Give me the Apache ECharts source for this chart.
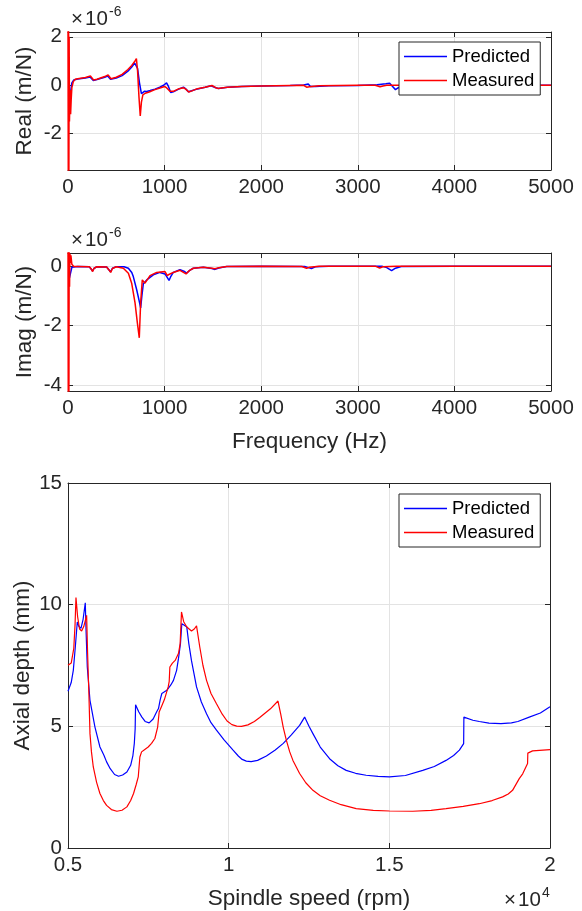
<!DOCTYPE html>
<html lang="en">
<head>
    <meta charset="UTF-8">
    <title>FRF and stability lobes</title>
    <style>
        html, body {
            margin: 0;
            padding: 0;
            background: #fff;
        }

        #main {
            width: 582px;
            height: 911px;
        }
    </style>
</head>
<body>
<div id="main"></div>
<script src="https://cdn.jsdelivr.net/npm/echarts/dist/echarts.min.js"></script>
<script>
    // FRF real part, x = frequency (Hz), y in 1e-6 m/N
    var realPredicted = [
        [15, -0.6], [40, 0.1], [60, 0.22], [100, 0.26], [180, 0.3], [228, 0.34], [245, 0.3], [262, 0.2],
        [300, 0.24], [380, 0.33], [410, 0.38], [440, 0.25], [500, 0.3], [560, 0.4], [620, 0.58],
        [660, 0.75], [690, 0.92], [705, 0.98], [720, 0.7], [740, 0.1], [760, -0.35], [775, -0.38],
        [790, -0.25], [815, -0.26], [850, -0.22], [900, -0.16], [950, -0.08], [990, 0.0], [1020, 0.1],
        [1040, -0.05], [1063, -0.3], [1090, -0.27], [1150, -0.15], [1195, -0.08], [1220, -0.15],
        [1246, -0.27], [1280, -0.23], [1340, -0.15], [1420, -0.08], [1480, -0.02], [1500, 0.0],
        [1530, -0.1], [1560, -0.13], [1650, -0.08], [1800, -0.05], [2000, -0.03], [2300, -0.01],
        [2440, 0.01], [2487, 0.05], [2510, -0.05], [2530, -0.1], [2560, -0.05], [2700, -0.02],
        [3000, -0.01], [3200, 0.02], [3290, 0.06], [3330, 0.08], [3360, -0.05], [3390, -0.18],
        [3420, -0.1], [3500, -0.02], [4000, 0], [5000, 0]
    ];
    var realMeasured = [
        [0, 2.5], [3, -4], [6, 3], [9, -4], [12, 2], [15, -1.5], [22, -0.2], [27, -1.2], [33, -0.6],
        [40, -0.1], [55, 0.15], [75, 0.25], [100, 0.27], [180, 0.32], [232, 0.38], [248, 0.32],
        [265, 0.22], [300, 0.25], [380, 0.36], [415, 0.43], [445, 0.27], [500, 0.33], [560, 0.45],
        [620, 0.65], [660, 0.82], [690, 0.98], [708, 1.1], [720, 0.6], [735, -0.5], [748, -1.27],
        [760, -0.7], [775, -0.4], [800, -0.33], [840, -0.28], [900, -0.18], [960, -0.1], [1000, -0.05],
        [1025, -0.12], [1055, -0.25], [1090, -0.25], [1150, -0.14], [1195, -0.1], [1225, -0.18],
        [1250, -0.28], [1290, -0.22], [1340, -0.14], [1420, -0.08], [1490, -0.01], [1520, -0.08],
        [1550, -0.13], [1650, -0.08], [1800, -0.05], [2000, -0.03], [2300, -0.01], [2440, 0.0],
        [2470, -0.08], [2500, -0.06], [2600, -0.02], [3000, 0], [3180, 0.0], [3230, -0.06],
        [3260, -0.03], [3300, 0], [4000, 0], [5000, 0]
    ];

    // FRF imaginary part, x = frequency (Hz), y in 1e-6 m/N
    var imagPredicted = [
        [15, -0.4], [40, -0.05], [100, -0.02], [220, -0.03], [240, -0.08], [255, -0.17], [270, -0.08],
        [300, -0.03], [400, -0.04], [420, -0.1], [440, -0.2], [460, -0.08], [500, -0.03], [580, -0.03],
        [625, -0.08], [660, -0.22], [676, -0.36], [711, -0.8], [735, -1.15], [752, -1.41], [765, -1.0],
        [780, -0.6], [815, -0.47], [883, -0.3], [952, -0.22], [1004, -0.27], [1030, -0.4], [1046, -0.49],
        [1065, -0.35], [1090, -0.22], [1159, -0.13], [1200, -0.18], [1229, -0.24], [1260, -0.15],
        [1297, -0.08], [1401, -0.05], [1490, -0.09], [1522, -0.12], [1560, -0.07], [1643, -0.02],
        [2000, -0.01], [2450, -0.02], [2490, -0.06], [2520, -0.09], [2560, -0.03], [2700, -0.01],
        [3250, -0.01], [3300, -0.06], [3350, -0.16], [3390, -0.08], [3450, -0.02], [4000, -0.01],
        [5000, -0.01]
    ];
    var imagMeasured = [
        [0, 1], [3, -5], [6, 1], [9, -5], [12, 0.5], [16, -0.7], [20, 0.4], [25, 0.1], [30, 0.35],
        [40, 0.05], [60, -0.02], [100, -0.02], [220, -0.03], [240, -0.1], [255, -0.19], [270, -0.08],
        [300, -0.03], [400, -0.04], [420, -0.12], [442, -0.22], [460, -0.09], [500, -0.03], [573, -0.08],
        [625, -0.25], [659, -0.58], [694, -1.24], [718, -1.91], [738, -2.41], [752, -1.24], [769, -0.47],
        [797, -0.58], [849, -0.33], [918, -0.22], [1004, -0.19], [1028, -0.33], [1050, -0.28],
        [1090, -0.22], [1159, -0.15], [1222, -0.27], [1260, -0.15], [1297, -0.08], [1401, -0.05],
        [1490, -0.08], [1522, -0.1], [1560, -0.06], [1643, -0.02], [2000, -0.01], [2420, -0.02],
        [2470, -0.08], [2500, -0.05], [2600, -0.01], [3180, -0.01], [3226, -0.07], [3260, -0.03],
        [3400, -0.01], [5000, -0.01]
    ];

    // stability lobes, x = spindle speed (rpm), y = axial depth (mm)
    var lobesPredicted = [
        [5000, 6.44], [5100, 6.8], [5165, 7.3], [5230, 8.3], [5289, 9.29], [5340, 9.1], [5404, 9.03],
        [5470, 9.4], [5538, 10.08], [5560, 9.0], [5600, 7.44], [5684, 6.07], [5839, 4.97], [5994, 4.15],
        [6118, 3.81], [6201, 3.54], [6314, 3.26], [6450, 3.02], [6573, 2.95], [6700, 3.0], [6833, 3.12],
        [6950, 3.4], [7020, 3.8], [7064, 4.3], [7090, 4.9], [7103, 5.89], [7200, 5.6], [7300, 5.38],
        [7400, 5.2], [7526, 5.14], [7650, 5.3], [7760, 5.6], [7816, 5.73], [7870, 6.1], [7920, 6.35],
        [8075, 6.48], [8200, 6.7], [8282, 6.89], [8380, 7.3], [8440, 7.8], [8500, 8.4], [8542, 9.22],
        [8620, 9.15], [8697, 9.08], [8760, 8.4], [8843, 7.7], [9000, 6.62], [9150, 6.0], [9311, 5.52],
        [9450, 5.15], [9621, 4.84], [9850, 4.45], [10137, 4.02], [10300, 3.78], [10420, 3.64],
        [10550, 3.57], [10700, 3.55], [10900, 3.6], [11174, 3.78], [11450, 4.03], [11700, 4.3],
        [11950, 4.65], [12208, 5.04], [12364, 5.38], [12500, 5.0], [12622, 4.7], [12850, 4.15],
        [13140, 3.67], [13400, 3.38], [13657, 3.19], [13950, 3.07], [14278, 2.99], [14650, 2.94],
        [15005, 2.92], [15500, 2.98], [16040, 3.19], [16400, 3.35], [16765, 3.6], [17000, 3.8],
        [17180, 4.02], [17313, 4.29], [17320, 5.38], [17600, 5.25], [17800, 5.2], [18100, 5.13],
        [18475, 5.11], [18800, 5.14], [19000, 5.2], [19355, 5.38], [19700, 5.55], [20000, 5.8]
    ];
    var lobesMeasured = [
        [5000, 7.51], [5100, 7.6], [5180, 8.2], [5220, 9.2], [5248, 10.29], [5300, 9.5], [5360, 9.0],
        [5425, 8.92], [5490, 9.1], [5580, 9.56], [5610, 8.0], [5650, 6.35], [5684, 4.7], [5730, 3.95],
        [5787, 3.33], [5890, 2.7], [5994, 2.24], [6100, 1.95], [6201, 1.75], [6350, 1.58], [6522, 1.51],
        [6680, 1.55], [6833, 1.69], [6950, 1.95], [7040, 2.24], [7120, 2.6], [7186, 2.92], [7237, 3.74],
        [7290, 3.95], [7390, 4.05], [7495, 4.15], [7600, 4.3], [7703, 4.5], [7790, 4.97], [7837, 5.59],
        [7920, 5.85], [8000, 6.1], [8118, 6.62], [8150, 6.85], [8170, 7.44], [8250, 7.6], [8335, 7.71],
        [8440, 8.0], [8490, 8.4], [8532, 9.7], [8600, 9.3], [8697, 9.08], [8843, 8.92], [8930, 9.0],
        [9000, 9.13], [9101, 8.26], [9200, 7.5], [9311, 6.89], [9450, 6.35], [9621, 5.93], [9800, 5.5],
        [9950, 5.22], [10100, 5.07], [10250, 5.01], [10400, 5.0], [10600, 5.06], [10800, 5.2],
        [10966, 5.36], [11300, 5.72], [11535, 6.04], [11620, 5.5], [11700, 4.95], [11794, 4.43],
        [11900, 3.95], [12000, 3.6], [12208, 3.06], [12400, 2.68], [12622, 2.37], [12850, 2.15],
        [13140, 1.96], [13500, 1.78], [13968, 1.62], [14500, 1.55], [15005, 1.52], [15729, 1.51],
        [16300, 1.55], [16765, 1.62], [17300, 1.71], [17800, 1.82], [18200, 1.95], [18525, 2.1],
        [18700, 2.22], [18835, 2.37], [19043, 2.85], [19150, 3.05], [19250, 3.33], [19302, 3.47],
        [19310, 3.9], [19458, 3.99], [20000, 4.04]
    ];

    var seriesNames = ['Predicted', 'Measured'];
    var freqTicks = [0, 1000, 2000, 3000, 4000, 5000];
    var speedTicks = [5000, 10000, 15000, 20000];
    var realTicks = [-2, 0, 2];
    var imagTicks = [-4, -2, 0];
    var depthTicks = [0, 5, 10, 15];

    var FONT = '"Liberation Sans", Arial, Helvetica, sans-serif';
    var INK = '#262626';
    var GRIDLINE = '#e3e3e3';

    var grids = [
        {left: 68, top: 32, width: 483, height: 138},
        {left: 68, top: 253, width: 483, height: 138},
        {left: 68, top: 483, width: 482, height: 365}
    ];

    var xAxes = [];
    var yAxes = [];

    var tickStyle = {show: true, inside: true, length: 5, lineStyle: {color: INK}};

    var addAxes = function (g, xr, xt, yr, yt, xName, yName, xFmt, yGap) {
        // bottom / left axes carry labels, top / right only repeat the ticks (MATLAB box)
        xAxes.push({
            gridIndex: g, type: 'value', position: 'bottom', min: xr[0], max: xr[1],
            name: xName, nameLocation: 'middle', nameGap: 39, nameMoveOverlap: false,
            nameTextStyle: {color: INK, fontSize: 22.5, fontFamily: FONT},
            axisLine: {show: true, onZero: false, lineStyle: {color: INK, width: 1}},
            axisTick: Object.assign({customValues: xt}, tickStyle),
            axisLabel: {customValues: xt, color: INK, fontSize: 20.5, fontFamily: FONT, margin: 7, formatter: xFmt},
            splitLine: {show: true, lineStyle: {color: GRIDLINE, width: 1}}
        });
        xAxes.push({
            gridIndex: g, type: 'value', position: 'top', min: xr[0], max: xr[1],
            axisLine: {show: true, onZero: false, lineStyle: {color: INK, width: 1}},
            axisTick: Object.assign({customValues: xt}, tickStyle),
            axisLabel: {show: false},
            splitLine: {show: false}
        });
        yAxes.push({
            gridIndex: g, type: 'value', position: 'left', min: yr[0], max: yr[1],
            name: yName, nameLocation: 'middle', nameGap: yGap, nameMoveOverlap: false,
            nameTextStyle: {color: INK, fontSize: 22.5, fontFamily: FONT},
            axisLine: {show: true, onZero: false, lineStyle: {color: INK, width: 1}},
            axisTick: Object.assign({customValues: yt}, tickStyle),
            axisLabel: {customValues: yt, color: INK, fontSize: 20.5, fontFamily: FONT, margin: 6},
            splitLine: {show: true, lineStyle: {color: GRIDLINE, width: 1}}
        });
        yAxes.push({
            gridIndex: g, type: 'value', position: 'right', min: yr[0], max: yr[1],
            axisLine: {show: true, onZero: false, lineStyle: {color: INK, width: 1}},
            axisTick: Object.assign({customValues: yt}, tickStyle),
            axisLabel: {show: false},
            splitLine: {show: false}
        });
    };

    var plain = function (v) {
        return String(v);
    };

    addAxes(0, [0, 5000], freqTicks, [-3.5, 2.2], realTicks, '', 'Real (m/N)', plain, 32);
    addAxes(1, [0, 5000], freqTicks, [-4.19, 0.43], imagTicks, 'Frequency (Hz)', 'Imag (m/N)', plain, 32);
    addAxes(2, [5000, 20000], speedTicks, [0, 15], depthTicks, 'Spindle speed (rpm)', 'Axial depth (mm)',
        function (v) {
            return String(v / 10000);
        }, 34);

    var makeLine = function (name, color, g, data, width) {
        return {
            name: name,
            type: 'line',
            xAxisIndex: g * 2,
            yAxisIndex: g * 2,
            data: data,
            symbol: 'none',
            showSymbol: false,
            animation: false,
            clip: true,
            lineStyle: {color: color, width: width},
            itemStyle: {color: color}
        };
    };

    var makeLegend = function (top) {
        return {
            data: seriesNames,
            orient: 'vertical',
            left: 399,
            top: top,
            icon: 'rect',
            itemWidth: 43,
            itemHeight: 1.5,
            itemGap: 5,
            padding: [5, 6, 5, 5],
            borderColor: INK,
            borderWidth: 1,
            backgroundColor: '#fff',
            selectedMode: false,
            textStyle: {color: '#000', fontSize: 18.5, fontFamily: FONT}
        };
    };

    // MATLAB style axis exponent: "×10" with a raised power
    var expText = function (x, y, sup) {
        return [
            {type: 'text', left: x, top: y, z: 10,
                style: {text: '\u00d7', fill: INK, font: '20.5px ' + FONT}},
            {type: 'text', left: x + 14, top: y, z: 10,
                style: {text: '10', fill: INK, font: '20.5px ' + FONT}},
            {type: 'text', left: x + 38, top: y - 4, z: 10,
                style: {text: sup, fill: INK, font: '14px ' + FONT}}
        ];
    };

    var option = {
        backgroundColor: '#fff',
        animation: false,
        grid: grids,
        xAxis: xAxes,
        yAxis: yAxes,
        legend: [makeLegend(42), makeLegend(494)],
        graphic: [].concat(
            expText(71, 9, '-6'),
            expText(71, 230, '-6'),
            expText(504, 890, '4')
        ),
        series: [
            makeLine('Predicted', '#0000ff', 0, realPredicted, 1.5),
            makeLine('Measured', '#ff0000', 0, realMeasured, 1.5),
            makeLine('Predicted', '#0000ff', 1, imagPredicted, 1.5),
            makeLine('Measured', '#ff0000', 1, imagMeasured, 1.5),
            makeLine('Predicted', '#0000ff', 2, lobesPredicted, 1.2),
            makeLine('Measured', '#ff0000', 2, lobesMeasured, 1.2)
        ]
    };

    var myChart = echarts.init(document.getElementById('main'));
    myChart.setOption(option);
</script>
</body>
</html>
